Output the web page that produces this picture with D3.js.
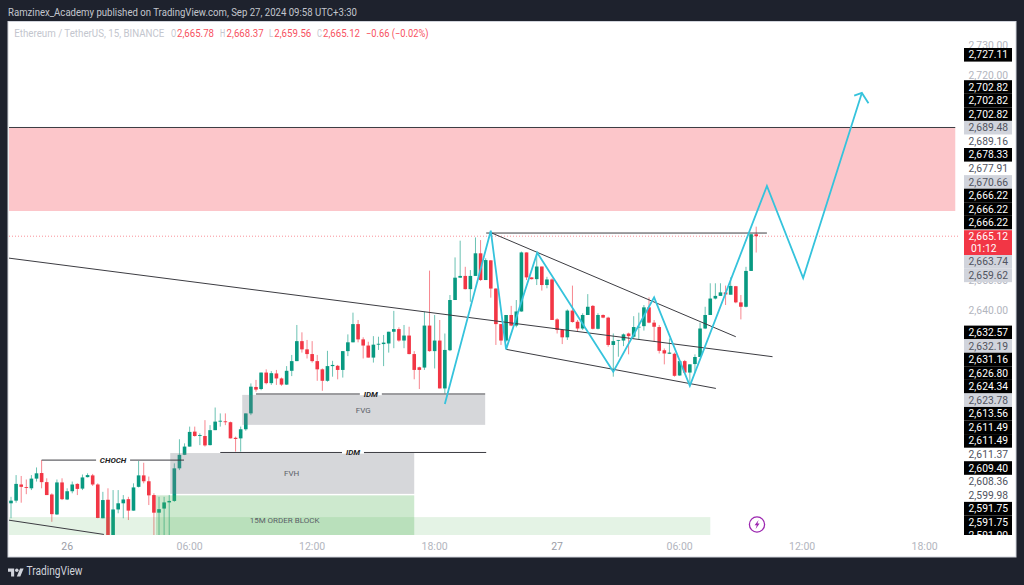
<!DOCTYPE html>
<html><head><meta charset="utf-8">
<style>html,body{margin:0;padding:0;background:#1e222d;overflow:hidden}svg{display:block}text{font-family:Roboto,"Liberation Sans",sans-serif}</style>
<script src="https://cdnjs.cloudflare.com/ajax/libs/d3/7.8.5/d3.min.js"></script>
</head><body>
<script>
const opens=[2574.2,2575.1,2580.6,2579.7,2579.3,2582.6,2584.5,2581.4,2577.2,2570.4,
2581.3,2575.5,2578.3,2580.8,2579.2,2583.1,2583.7,2580.6,2569.1,2575.4,
2562.8,2572.1,2574.2,2575.6,2571.7,2579.8,2583.7,2581.7,2577.0,2571.0,
2572.4,2574.5,2575.0,2586.1,2590.7,2593.5,2598.6,2597.1,2597.1,2594.0,
2599.1,2602.0,2602.1,2601.8,2596.5,2596.3,2599.4,2604.8,2613.8,2613.1,
2618.7,2615.1,2618.4,2616.7,2614.6,2619.3,2622.6,2629.4,2626.6,2625.0,
2622.6,2619.8,2615.9,2620.9,2621.0,2619.6,2626.0,2629.0,2635.2,2630.0,
2627.9,2623.8,2628.2,2628.4,2628.6,2632.6,2633.5,2629.6,2631.3,2625.0,
2620.5,2620.4,2634.7,2626.0,2629.6,2613.3,2626.3,2643.4,2651.0,2651.6,
2647.1,2651.6,2659.3,2650.2,2656.9,2647.3,2635.2,2629.6,2638.3,2634.7,
2639.5,2659.6,2651.1,2650.5,2654.8,2648.5,2650.4,2636.8,2633.2,2630.7,
2639.8,2636.0,2633.7,2638.3,2641.4,2633.6,2638.3,2637.4,2628.1,2629.6,
2629.6,2632.0,2630.9,2634.1,2634.5,2640.9,2635.7,2634.2,2626.3,2625.1,
2625.1,2617.7,2622.6,2618.7,2621.6,2624.0,2633.7,2638.3,2643.9,2644.8,
2646.0,2645.2,2648.1,2642.6,2641.1,2653.3,2665.78];
const highs=[2576.4,2583.8,2583.5,2582.3,2583.8,2586.4,2588.9,2582.7,2577.6,2582.3,
2582.7,2579.3,2581.6,2581.0,2584.0,2584.4,2584.2,2581.0,2578.1,2579.3,
2578.7,2578.7,2577.0,2576.4,2581.0,2588.6,2588.0,2583.3,2577.6,2576.4,
2576.4,2577.0,2587.8,2596.0,2594.6,2600.3,2600.3,2598.0,2602.5,2600.8,
2606.8,2604.8,2604.8,2602.0,2596.9,2600.3,2604.8,2615.0,2616.2,2618.7,
2619.8,2619.2,2619.6,2617.0,2620.9,2624.7,2634.9,2632.4,2629.8,2629.4,
2624.7,2620.1,2626.1,2622.7,2621.3,2626.0,2631.7,2639.1,2636.6,2630.7,
2629.2,2631.1,2630.9,2631.5,2632.6,2639.7,2634.1,2634.9,2634.3,2626.0,
2620.7,2639.4,2653.4,2638.3,2636.6,2632.0,2645.1,2657.9,2663.6,2654.7,
2653.6,2664.7,2663.8,2657.6,2657.0,2647.4,2635.2,2638.3,2641.4,2643.4,
2659.9,2659.6,2651.1,2659.3,2654.8,2651.3,2650.8,2637.2,2633.4,2640.2,
2648.3,2636.6,2638.9,2645.4,2641.7,2638.9,2638.5,2637.7,2632.0,2629.8,
2632.0,2632.3,2637.9,2639.1,2641.7,2644.3,2636.6,2634.9,2626.9,2630.3,
2625.5,2623.0,2623.0,2621.6,2624.9,2635.7,2641.1,2649.1,2649.1,2649.1,
2648.3,2651.1,2648.2,2645.1,2654.7,2665.8,2668.37];
const lows=[2569.1,2574.4,2574.4,2577.3,2578.7,2581.6,2579.3,2577.0,2567.9,2570.2,
2575.3,2575.3,2577.6,2577.0,2578.7,2583.0,2580.1,2569.1,2569.1,2562.8,
2562.8,2570.8,2569.1,2568.5,2571.7,2579.6,2581.0,2573.6,2562.8,2562.8,
2562.8,2562.8,2574.7,2585.5,2590.6,2593.5,2596.9,2594.0,2593.5,2593.9,
2599.1,2600.3,2600.8,2596.3,2591.8,2591.8,2598.9,2604.2,2612.2,2612.7,
2614.7,2614.5,2614.5,2614.2,2614.5,2617.5,2622.6,2625.5,2623.5,2622.1,
2615.9,2612.5,2615.6,2617.3,2616.4,2617.0,2624.3,2629.0,2629.0,2623.5,
2623.8,2622.1,2626.4,2620.9,2625.5,2627.0,2629.2,2627.0,2624.9,2616.4,
2613.1,2619.6,2625.8,2620.1,2613.3,2611.6,2626.0,2643.4,2651.0,2647.0,
2642.8,2651.6,2649.9,2650.2,2644.2,2628.1,2628.1,2629.2,2634.5,2634.1,
2639.4,2650.2,2650.4,2648.5,2646.6,2647.4,2636.6,2632.0,2628.4,2629.8,
2635.7,2632.6,2633.2,2638.3,2633.4,2633.4,2637.2,2627.5,2617.3,2624.1,
2627.7,2624.9,2630.3,2630.0,2633.0,2635.5,2629.2,2625.2,2621.5,2625.0,
2617.3,2617.6,2618.7,2614.2,2618.7,2624.0,2633.5,2638.3,2643.6,2644.8,
2641.7,2645.3,2642.3,2636.8,2640.9,2653.3,2659.56];
const closes=[2575.1,2580.8,2579.8,2579.4,2582.6,2584.4,2581.4,2577.0,2570.5,2581.3,
2575.6,2578.3,2580.6,2579.1,2583.0,2583.8,2580.6,2569.2,2575.3,2562.8,
2572.1,2574.2,2575.5,2571.7,2579.6,2583.7,2581.7,2576.9,2571.0,2572.2,
2574.5,2575.0,2586.1,2590.7,2593.5,2598.5,2597.1,2597.4,2593.9,2599.1,
2602.0,2602.3,2601.8,2596.3,2596.1,2599.4,2604.8,2613.9,2612.9,2618.7,
2615.1,2618.5,2616.7,2614.6,2619.3,2622.6,2629.4,2626.6,2625.0,2622.6,
2619.8,2615.9,2620.9,2621.3,2619.6,2626.0,2629.0,2635.2,2630.0,2627.9,
2623.8,2628.2,2628.5,2628.9,2632.6,2633.5,2629.6,2631.3,2625.0,2619.6,
2619.6,2634.7,2626.0,2629.6,2613.3,2626.4,2643.4,2651.0,2651.6,2647.1,
2651.6,2659.3,2650.2,2657.0,2647.3,2635.2,2629.6,2638.3,2634.7,2639.5,
2659.6,2651.1,2650.5,2654.8,2648.5,2650.4,2636.6,2633.2,2630.7,2639.8,
2635.9,2633.7,2638.3,2641.1,2633.6,2638.3,2637.4,2628.1,2629.4,2629.8,
2631.7,2631.1,2634.2,2634.3,2640.9,2635.7,2634.3,2626.1,2625.2,2625.5,
2617.6,2622.6,2618.7,2621.5,2624.0,2633.7,2638.3,2643.9,2644.8,2646.0,
2645.3,2648.2,2642.6,2641.1,2653.3,2665.8,2665.12];

// x-axis ticks: candle index and label
const timeTickIndex=[11,35,59,83,107,131,155,179];
const timeTickLabels=["26","06:00","12:00","18:00","27","06:00","12:00","18:00"];
// right-axis price ticks
const priceTicks=[2730,2720,2650,2640];
// right-axis tags
const upperTagLabels=["2,702.82","2,702.82","2,702.82","2,689.48","2,689.16","2,678.33","2,677.91","2,670.66","2,666.22","2,666.22","2,666.22"];
const upperTagKinds=["k","k","k","g","p","k","p","g","k","k","k"];
const pairTagLabels=["2,663.74","2,659.62"];
const lowerTagLabels=["2,632.57","2,632.19","2,631.16","2,626.80","2,624.34","2,623.78","2,613.56","2,611.49","2,611.49","2,611.37","2,609.40","2,608.36","2,599.98","2,591.75","2,591.75","2,591.00"];
const lowerTagKinds=["k","g","k","k","k","g","k","k","k","p","k","p","p","k","k","k"];
// drawings: [candle index, price]
const zigzag=[[85,2608],[94,2667],[97,2626.6],[103.1,2659.5],[118,2619],[126,2644.3],[133,2614.2],[148.1,2682.2],[155.2,2650.9],[166.7,2713.9]];
const arrowBarbs=[[[165.2,2713],[166.7,2713.9],[168,2710.4]]];
const trendLines=[
 [[-0.6,2657.7],[149.2,2624.1]],
 [[93.1,2666.2],[148.1,2666.2]],
 [[94.2,2666.2],[142,2630.9]],
 [[97,2626.6],[138.1,2613.3]],
 [[-0.6,2568.5],[18.2,2563.6]],
 [[6,2588.9],[33.9,2588.9]],
 [[48,2611.4],[92.9,2611.4]],
 [[41,2591.5],[93.1,2591.5]],
 [[-1,2702.13],[185,2702.13]]];
const gapLabels=[["CHOCH",20,2588.9,34],["IDM",70.5,2611.4,22],["IDM",67,2591.5,22]];
const zonePink=[-1,185,2702,2673.7];
const zonesGrey=[[45.3,92.9,2611.1,2600.9],[31.2,79,2591.3,2577.4]];
const zonesGreen=[[28.4,79,2576.9,2563,0.28],[-1,137,2569.5,2563,0.15]];
const zoneLabels=[["FVG",69,2606],["FVH",55,2584.5],["15M ORDER BLOCK",53.6,2568.5]];
const lastClose=2665.12;

const W=1024,H=585;
const svg=d3.select("body").append("svg").attr("width",W).attr("height",H);
svg.append("rect").attr("width",W).attr("height",H).attr("fill","#1e222d");
svg.append("rect").attr("x",8).attr("y",21.5).attr("width",1008).attr("height",535.5).attr("fill","#fff").attr("stroke","#d1d4dc");
const clip=svg.append("defs");
clip.append("clipPath").attr("id","pane").append("rect").attr("x",9).attr("y",22).attr("width",951).attr("height",513);
clip.append("clipPath").attr("id","axis").append("rect").attr("x",960).attr("y",22).attr("width",56).attr("height",513);

const x=d3.scaleLinear().domain([0,146]).range([11,756.2]);
const y=d3.scaleLinear().domain([2720,2640]).range([75,310]);
const pane=svg.append("g").attr("clip-path","url(#pane)");
const up="#089981",down="#f23645";
const ids=d3.range(opens.length);
const colr=i=>closes[i]>=opens[i]?up:down;

pane.append("rect").attr("x",x(zonePink[0])).attr("width",x(zonePink[1])-x(zonePink[0]))
 .attr("y",y(zonePink[2])).attr("height",y(zonePink[3])-y(zonePink[2])).attr("fill","#fcc6ca");
pane.append("line").attr("x1",9).attr("x2",960).attr("y1",y(lastClose)).attr("y2",y(lastClose))
 .attr("stroke",down).attr("stroke-opacity",.55).attr("stroke-dasharray","1 2");

pane.selectAll("line.w").data(ids).join("line").attr("class","w")
 .attr("x1",i=>x(i)).attr("x2",i=>x(i)).attr("y1",i=>y(highs[i])).attr("y2",i=>y(lows[i]))
 .attr("stroke",colr).attr("stroke-opacity",.6).attr("stroke-width",1);
pane.selectAll("rect.b").data(ids).join("rect").attr("class","b")
 .attr("x",i=>x(i)-1.8).attr("width",3.6)
 .attr("y",i=>y(Math.max(opens[i],closes[i])))
 .attr("height",i=>Math.max(.8,Math.abs(y(opens[i])-y(closes[i]))))
 .attr("fill",colr);

const zone=(sel,cls)=>sel.selectAll("rect."+cls);
zone(pane,"grey").data(zonesGrey).join("rect").attr("class","grey")
 .attr("x",d=>x(d[0])).attr("width",d=>x(d[1])-x(d[0])).attr("y",d=>y(d[2])).attr("height",d=>y(d[3])-y(d[2]))
 .attr("fill","#787b86").attr("fill-opacity",.3);
zone(pane,"green").data(zonesGreen).join("rect").attr("class","green")
 .attr("x",d=>x(d[0])).attr("width",d=>x(d[1])-x(d[0])).attr("y",d=>y(d[2])).attr("height",d=>y(d[3])-y(d[2]))
 .attr("fill","#4caf50").attr("fill-opacity",d=>d[4]);

const lineGen=d3.line().x(d=>x(d[0])).y(d=>y(d[1]));
pane.selectAll("path.tl").data(trendLines).join("path").attr("class","tl").attr("d",lineGen)
 .attr("fill","none").attr("stroke","#3c3c42").attr("stroke-width",1);
pane.selectAll("path.zz").data([zigzag,...arrowBarbs]).join("path").attr("class","zz").attr("d",lineGen)
 .attr("fill","none").attr("stroke","#35c3dc").attr("stroke-width",1.8).attr("stroke-linejoin","miter");

gapLabels.forEach(([t,i,p,w])=>{
 pane.append("rect").attr("x",x(i)-w/2).attr("width",w).attr("y",y(p)-1.2).attr("height",2.4).attr("fill","#fff");
 pane.append("text").attr("x",x(i)).attr("y",y(p)+2.8).attr("text-anchor","middle")
  .attr("font-size",8).attr("font-style","italic").attr("font-weight",700).attr("fill","#222").text(t);
});
zoneLabels.forEach(([t,i,p])=>{
 pane.append("text").attr("x",x(i)).attr("y",y(p)+3).attr("text-anchor","middle")
  .attr("font-size",8).attr("fill","#5c5f68").text(t);
});

// lightning marker
const bolt=svg.append("g").attr("transform","translate(757,524.5)");
bolt.append("circle").attr("r",7.6).attr("fill","#fff").attr("stroke","#9c27b0").attr("stroke-width",1.3);
bolt.append("path").attr("d","M1.6,-4.4 L-2.4,0.8 L-0.2,0.8 L-1.4,4.4 L2.6,-1 L0.4,-1 Z").attr("fill","#9c27b0");

// time axis
svg.selectAll("text.tt").data(timeTickIndex).join("text").attr("class","tt")
 .attr("x",d=>x(d)).attr("y",550).attr("text-anchor","middle").attr("font-size",10.5)
 .attr("fill",(d,i)=>timeTickLabels[i].length<3?"#9a9da6":"#b2b5be").text((d,i)=>timeTickLabels[i]);

// price axis
const axis=svg.append("g").attr("clip-path","url(#axis)");
const tagL=964,tagW=48,txtX=1008,pitch=13.56;
const styles={k:{bg:"#000",fg:"#fff"},g:{bg:"#d1d4dc",fg:"#50535e"},p:{bg:null,fg:"#50535e"}};
axis.selectAll("text.pt").data(priceTicks).join("text").attr("class","pt")
 .attr("x",txtX).attr("y",d=>y(d)+3.6).attr("text-anchor","end").attr("font-size",10.3).attr("fill","#b2b5be")
 .text(d=>d3.format(",.2f")(d));
function tag(label,kind,cy){
 const s=styles[kind];
 if(s.bg)axis.append("rect").attr("x",tagL).attr("width",tagW).attr("y",cy-6.8).attr("height",13.6).attr("fill",s.bg);
 axis.append("text").attr("x",txtX).attr("y",cy+3.6).attr("text-anchor","end").attr("font-size",10.3).attr("fill",s.fg).text(label);
}
tag("2,727.11","k",54.8);
upperTagLabels.forEach((l,i)=>tag(l,upperTagKinds[i],87+i*pitch));
axis.append("rect").attr("x",tagL).attr("width",tagW).attr("y",230.2).attr("height",26.8).attr("fill",down);
axis.append("text").attr("x",txtX).attr("y",y(lastClose)+3.4).attr("text-anchor","end").attr("font-size",10.3).attr("fill","#fff").text(d3.format(",.2f")(lastClose));
axis.append("text").attr("x",971).attr("y",252.4).attr("font-size",10.3).attr("fill","#fff").text("01:12");
pairTagLabels.forEach((l,i)=>tag(l,"g",261.8+i*pitch));
lowerTagLabels.forEach((l,i)=>tag(l,lowerTagKinds[i],332.4+i*pitch));

// header
svg.append("text").attr("x",8).attr("y",15.6).attr("font-size",10.4).attr("fill","#c3c6ce")
 .attr("textLength",349).attr("lengthAdjust","spacingAndGlyphs")
 .text("Ramzinex_Academy published on TradingView.com, Sep 27, 2024 09:58 UTC+3:30");
const legendParts=[["Ethereum / TetherUS, 15, BINANCE",14.3,150,"#c3c6ce"],["O",171,5.2,"#c3c6ce"],["2,665.78",177,37,"#f7525f"],["H",220,5.2,"#c3c6ce"],["2,668.37",226.6,37,"#f7525f"],["L",269,4.2,"#c3c6ce"],["2,659.56",274.3,37,"#f7525f"],["C",317,5,"#c3c6ce"],["2,665.12",323,37,"#f7525f"],["−0.66 (−0.02%)",366,62.5,"#f7525f"]];
legendParts.forEach(([t,px,w,c])=>svg.append("text").attr("x",px).attr("y",37.4).attr("font-size",10.4).attr("fill",c)
 .attr("textLength",w).attr("lengthAdjust","spacingAndGlyphs").text(t));

// logo
const logo=svg.append("g").attr("transform","translate(8,566.8) scale(0.44)").attr("fill","#d1d4dc");
logo.append("path").attr("d","M14 22H7V11H0V4h14v18zM28 22h-8l7.5-18h8L28 22z");
logo.append("circle").attr("cx",20).attr("cy",8).attr("r",4);
svg.append("text").attr("x",26.5).attr("y",575).attr("font-size",12).attr("fill","#d1d4dc")
 .attr("textLength",56).attr("lengthAdjust","spacingAndGlyphs").text("TradingView");
</script>
</body></html>
